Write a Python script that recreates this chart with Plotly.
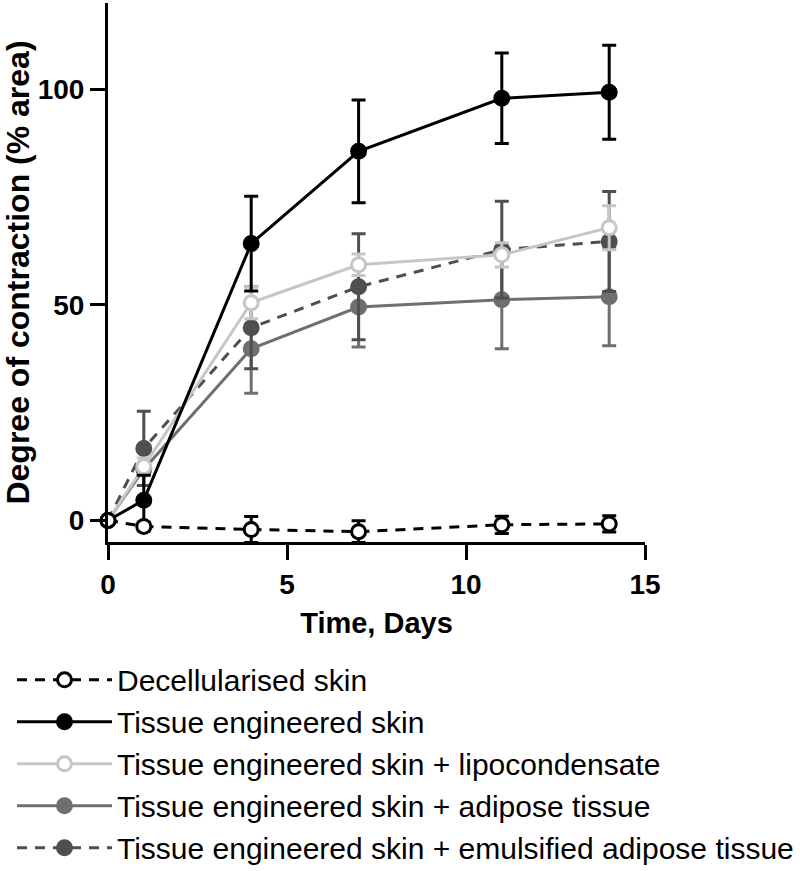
import plotly.graph_objects as go

days = [0, 1, 4, 7, 11, 14]

decell = [0, -1.4, -2.1, -2.6, -1.0, -0.8]
decell_err = [0, 1.0, 3.0, 2.5, 2.0, 1.9]

tes = [0, 4.7, 64.2, 85.6, 97.9, 99.3]
tes_err = [0, 5.8, 11.0, 11.9, 10.5, 10.9]

lipo = [0, 12.5, 50.5, 59.3, 61.6, 67.9]
lipo_err = [0, 2.0, 3.7, 2.5, 2.8, 5.1]

adipose = [0, 11.9, 39.8, 49.5, 51.2, 51.9]
adipose_err = [0, 1.2, 10.3, 9.3, 11.4, 11.4]

emuls = [0, 16.7, 44.7, 54.2, 62.8, 64.7]
emuls_err = [0, 8.6, 9.5, 12.3, 11.2, 11.6]

names = [
    "Decellularised skin",
    "Tissue engineered skin",
    "Tissue engineered skin + lipocondensate",
    "Tissue engineered skin + adipose tissue",
    "Tissue engineered skin + emulsified adipose tissue",
]

x_ticks = [0, 5, 10, 15]
y_ticks = [0, 50, 100]

fig = go.Figure()

def add(y, err, name, color, dash, hollow, rank):
    fig.add_trace(go.Scatter(
        x=days, y=y, name=name, mode="lines+markers",
        line=dict(color=color, width=3, dash=dash),
        marker=dict(size=14, symbol="circle",
                    color="white" if hollow else color,
                    line=dict(color=color, width=3)),
        error_y=dict(type="data", array=err, visible=True,
                     color=color, thickness=3, width=7),
        legendrank=rank,
        cliponaxis=False,
    ))

add(adipose, adipose_err, names[3], "#6f6f6f", "solid", False, 4)
add(emuls, emuls_err, names[4], "#4f4f4f", "10px,8px", False, 5)
add(lipo, lipo_err, names[2], "#c6c6c6", "solid", True, 3)
add(tes, tes_err, names[1], "#000000", "solid", False, 2)
add(decell, decell_err, names[0], "#000000", "10px,8px", True, 1)

axis_common = dict(
    showline=True, linecolor="black", linewidth=3,
    ticks="outside", ticklen=15, tickwidth=3, tickcolor="black",
    showgrid=False, zeroline=False,
    tickfont=dict(family="Liberation Sans, Arial", size=28, color="black", weight="bold"),
)

fig.update_layout(
    width=800, height=871,
    margin=dict(l=108, r=155, t=3, b=329, autoexpand=False),
    paper_bgcolor="white", plot_bgcolor="white",
    xaxis=dict(range=[0, 15], tickvals=x_ticks,
               title=dict(text="Time, Days", standoff=15,
                          font=dict(family="Liberation Sans, Arial", size=29, color="black", weight="bold")),
               **axis_common),
    yaxis=dict(range=[-5, 120], tickvals=y_ticks,
               title=dict(text="Degree of contraction (% area)", standoff=4,
                          font=dict(family="Liberation Sans, Arial", size=32, color="black", weight="bold")),
               **axis_common),
    legend=dict(x=-0.1788, xanchor="left", y=-0.2074, yanchor="top",
                font=dict(family="Liberation Sans, Arial", size=30, color="black"),
                itemwidth=95, tracegroupgap=0, bgcolor="rgba(0,0,0,0)"),
    showlegend=True,
)

fig.write_html("out.html")
